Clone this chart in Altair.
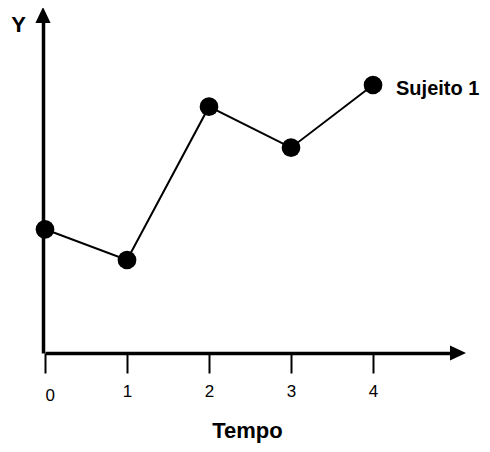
import altair as alt
import pandas as pd

# ---- data ----
tempo = [0, 1, 2, 3, 4]
y_values = [123.7, 93, 246.3, 205.3, 268]
point_labels = ["", "", "", "", "Sujeito 1"]
tick_values = [0, 1, 2, 3, 4]
x_title = "Tempo"
y_title = "Y"

df = pd.DataFrame({"Tempo": tempo, "Y": y_values, "label": point_labels})

FONT = "Liberation Sans"

x_scale = alt.Scale(domain=[0, 4.963], nice=False, zero=False)
y_scale = alt.Scale(domain=[0, 332], nice=False, zero=False)

x_axis = alt.Axis(
    values=tick_values,
    domain=True, domainColor="black", domainWidth=3.5,
    ticks=True, tickColor="black", tickWidth=2, tickSize=20,
    labelFont=FONT, labelFontSize=17, labelColor="black",
    labelPadding={"condition": {"test": "datum.value == 0", "value": 14}, "value": 10},
    grid=False,
    title=x_title, titleFont=FONT, titleFontSize=22, titleFontWeight="bold",
    titleColor="black", titleX=202, titleY=84, titleAlign="center",
    titleBaseline="alphabetic", titleAnchor="start",
)

y_axis = alt.Axis(
    domain=True, domainColor="black", domainWidth=3.5, offset=2,
    ticks=False, labels=False, grid=False,
    title=y_title, titleFont=FONT, titleFontSize=22, titleFontWeight="bold",
    titleColor="black", titleAngle=0, titleX=-25, titleY=10,
    titleAlign="center", titleBaseline="alphabetic", titleAnchor="start",
)

base = alt.Chart(df).encode(
    x=alt.X("Tempo:Q", scale=x_scale, axis=x_axis),
    y=alt.Y("Y:Q", scale=y_scale, axis=y_axis),
)

line = base.mark_line(color="black", strokeWidth=2)
points = base.mark_circle(size=350, color="black", opacity=1)
text = base.mark_text(
    align="left", baseline="alphabetic", dx=23, dy=10,
    font=FONT, fontSize=20, fontWeight="bold", color="black",
).encode(text="label:N")

one = alt.Data(values=[{"a": 1}])
y_arrow = alt.Chart(one).mark_point(
    shape="M0,-1L0.95,1L-0.95,1Z", filled=True, size=256,
    color="black", opacity=1, strokeWidth=0,
).encode(x=alt.value(-2), y=alt.value(-6))
x_arrow = alt.Chart(one).mark_point(
    shape="M1,0L-1,-0.95L-1,0.95Z", filled=True, size=256,
    color="black", opacity=1, strokeWidth=0,
).encode(x=alt.value(413), y=alt.value(332))

chart = alt.layer(line, points, text, y_arrow, x_arrow).properties(
    width=407, height=332,
    padding={"left": 37, "top": 13, "right": 30, "bottom": 90},
    autosize=alt.AutoSizeParams(type="none"),
    background="white",
).configure_view(stroke=None)

chart.save("out.html", embed_options={"renderer": "svg", "actions": False})
